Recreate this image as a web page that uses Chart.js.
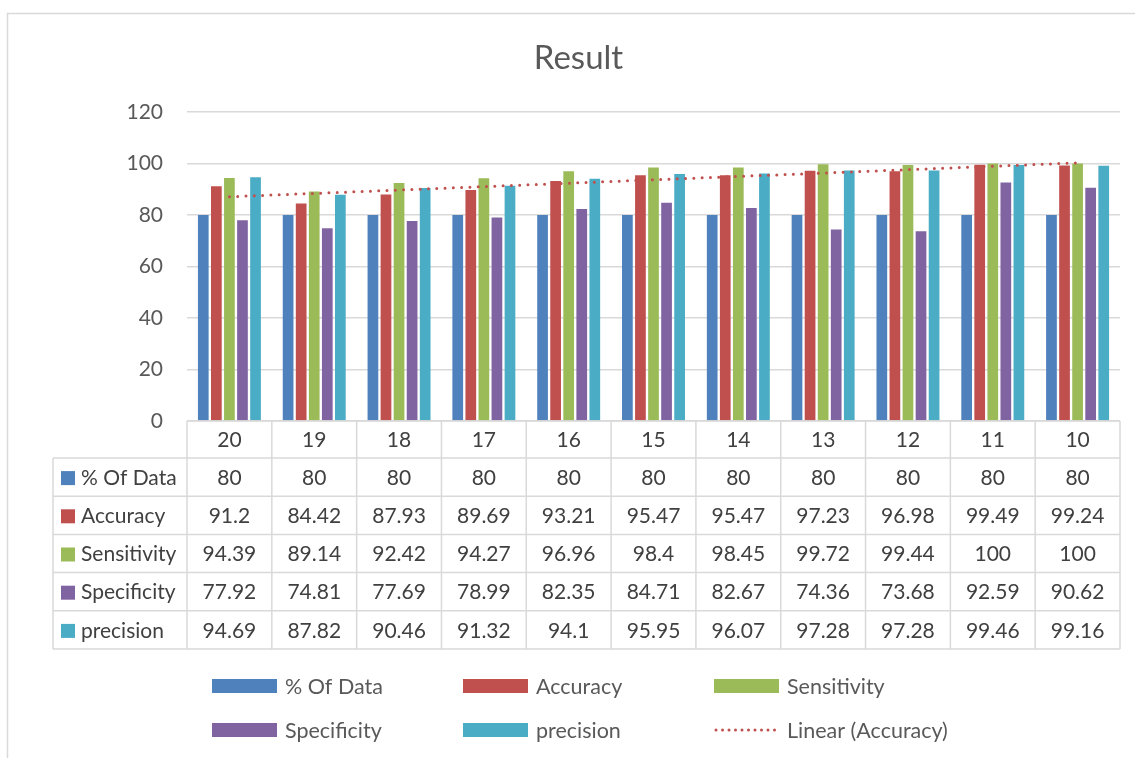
<!DOCTYPE html>
<html>
<head>
<meta charset="utf-8">
<script src="https://cdn.jsdelivr.net/npm/chart.js@4/dist/chart.umd.min.js"></script>
<style>
  html, body { margin: 0; padding: 0; background: #ffffff; }
  #wrap { width: 1135px; height: 758px; }
</style>
</head>
<body>
<div id="wrap"><canvas id="c" width="1135" height="758"></canvas></div>
<script>
// Categories along the x axis
const categories = ['20', '19', '18', '17', '16', '15', '14', '13', '12', '11', '10'];

// Series values
const pctOfData   = [80, 80, 80, 80, 80, 80, 80, 80, 80, 80, 80];
const accuracy    = [91.2, 84.42, 87.93, 89.69, 93.21, 95.47, 95.47, 97.23, 96.98, 99.49, 99.24];
const sensitivity = [94.39, 89.14, 92.42, 94.27, 96.96, 98.4, 98.45, 99.72, 99.44, 100, 100];
const specificity = [77.92, 74.81, 77.69, 78.99, 82.35, 84.71, 82.67, 74.36, 73.68, 92.59, 90.62];
const precision   = [94.69, 87.82, 90.46, 91.32, 94.1, 95.95, 96.07, 97.28, 97.28, 99.46, 99.16];

// Value axis ticks
const yTicks = [0, 20, 40, 60, 80, 100, 120];

// Least-squares linear trend of the Accuracy series (Excel "Linear" trendline)
function linearTrend(values) {
  const n = values.length;
  let sx = 0, sy = 0, sxx = 0, sxy = 0;
  values.forEach((v, i) => { const x = i + 1; sx += x; sy += v; sxx += x * x; sxy += x * v; });
  const slope = (n * sxy - sx * sy) / (n * sxx - sx * sx);
  const icpt = (sy - slope * sx) / n;
  return values.map((_, i) => icpt + slope * (i + 1));
}

const FONT = 'Lato, "Open Sans", "DejaVu Sans", sans-serif';
const FONT_SIZE = 21;
const TEXT = '#595959';
const TABLE_TEXT = '#404040';
const LINE = '#d9d9d9';
const PAD_LEFT = 37;

const series = [
  { label: '% Of Data',   data: pctOfData,   color: '#4f81bd' },
  { label: 'Accuracy',    data: accuracy,    color: '#c0504d' },
  { label: 'Sensitivity', data: sensitivity, color: '#9bbb59' },
  { label: 'Specificity', data: specificity, color: '#8064a2' },
  { label: 'precision',   data: precision,   color: '#4bacc6' }
];

const datasets = series.map(s => ({
  type: 'bar',
  label: s.label,
  data: s.data,
  backgroundColor: s.color,
  borderWidth: 0,
  categoryPercentage: 0.77,
  barPercentage: 0.82,
  order: 1
}));

datasets.push({
  type: 'line',
  label: 'Linear (Accuracy)',
  data: linearTrend(accuracy),
  borderColor: '#c0504d',
  backgroundColor: '#c0504d',
  borderWidth: 3,
  borderDash: [0, 8.3],
  borderCapStyle: 'round',
  pointRadius: 0,
  fill: false,
  order: 0
});

// Outer frame of the chart object
const framePlugin = {
  id: 'frame',
  beforeDraw(chart) {
    const ctx = chart.ctx;
    ctx.save();
    ctx.fillStyle = '#ffffff';
    ctx.fillRect(0, 0, chart.width, chart.height);
    ctx.strokeStyle = LINE;
    ctx.lineWidth = 1.5;
    ctx.strokeRect(7.5, 13.5, chart.width + 20, chart.height + 20);
    ctx.restore();
  }
};

// Data table below the plot, aligned with the category columns
const tablePlugin = {
  id: 'dataTable',
  afterDraw(chart) {
    const ctx = chart.ctx;
    const xs = chart.scales.x;
    const area = chart.chartArea;
    const n = categories.length;
    const colW = (area.right - area.left) / n;
    const top = area.bottom;
    const headH = 37;
    const rowH = 38.2;
    const labelLeft = 53;
    const rows = chart.data.datasets.filter(d => d.type === 'bar');
    const bottom = top + headH + rowH * rows.length;

    ctx.save();
    ctx.strokeStyle = LINE;
    ctx.lineWidth = 1.5;
    ctx.beginPath();
    // horizontal rules
    ctx.moveTo(area.left, top); ctx.lineTo(area.right, top);
    for (let r = 0; r <= rows.length; r++) {
      const y = top + headH + rowH * r;
      ctx.moveTo(labelLeft, y); ctx.lineTo(area.right, y);
    }
    // vertical rules
    ctx.moveTo(labelLeft, top + headH); ctx.lineTo(labelLeft, bottom);
    for (let c = 0; c <= n; c++) {
      const x = area.left + colW * c;
      ctx.moveTo(x, top); ctx.lineTo(x, bottom);
    }
    ctx.stroke();

    ctx.font = FONT_SIZE + 'px ' + FONT;
    ctx.textBaseline = 'middle';
    ctx.fillStyle = TABLE_TEXT;
    ctx.textAlign = 'center';
    categories.forEach((cat, i) => {
      ctx.fillText(cat, xs.getPixelForValue(i), top + headH / 2 + 1);
    });
    rows.forEach((ds, r) => {
      const cy = top + headH + rowH * r + rowH / 2 + 1;
      ctx.fillStyle = ds.backgroundColor;
      ctx.fillRect(labelLeft + 8, cy - 7, 14, 14);
      ctx.fillStyle = TABLE_TEXT;
      ctx.textAlign = 'left';
      ctx.fillText(ds.label, labelLeft + 28, cy);
      ctx.textAlign = 'center';
      ds.data.forEach((v, i) => {
        ctx.fillText(String(v), xs.getPixelForValue(i), cy);
      });
    });
    ctx.restore();
  }
};

// Legend laid out in three columns under the table
const legendPlugin = {
  id: 'gridLegend',
  afterDraw(chart) {
    const ctx = chart.ctx;
    const colX = [212, 463, 714];
    const rowY = [686, 730];
    ctx.save();
    ctx.font = (FONT_SIZE + 0.5) + 'px ' + FONT;
    ctx.textBaseline = 'middle';
    ctx.textAlign = 'left';
    chart.data.datasets.forEach((ds, i) => {
      const x = colX[i % 3];
      const y = rowY[Math.floor(i / 3)];
      if (ds.type === 'line') {
        ctx.strokeStyle = ds.borderColor;
        ctx.lineWidth = 3;
        ctx.lineCap = 'round';
        ctx.setLineDash([0, 6.5]);
        ctx.beginPath();
        ctx.moveTo(x + 2, y);
        ctx.lineTo(x + 66, y);
        ctx.stroke();
        ctx.setLineDash([]);
      } else {
        ctx.fillStyle = ds.backgroundColor;
        ctx.fillRect(x, y - 7, 65, 14);
      }
      ctx.fillStyle = TEXT;
      ctx.fillText(ds.label, x + 73, y + 1);
    });
    ctx.restore();
  }
};

new Chart(document.getElementById('c'), {
  type: 'bar',
  data: { labels: categories, datasets },
  options: {
    responsive: false,
    animation: false,
    devicePixelRatio: 1,
    layout: { padding: { left: PAD_LEFT, right: 15, top: 0, bottom: 337 } },
    plugins: {
      legend: { display: false },
      tooltip: { enabled: false },
      title: {
        display: true,
        text: 'Result',
        color: TEXT,
        font: { family: FONT, size: 33, weight: 'normal', lineHeight: 1.2 },
        padding: { top: 39, bottom: 33.4 }
      }
    },
    scales: {
      x: { display: false, offset: true },
      y: {
        min: yTicks[0],
        max: yTicks[yTicks.length - 1],
        afterBuildTicks(scale) { scale.ticks = yTicks.map(v => ({ value: v })); },
        afterFit(scale) { scale.width = 187 - PAD_LEFT; },
        border: { display: false },
        grid: { color: LINE, lineWidth: 1.5, drawTicks: false },
        ticks: { color: TEXT, padding: 24, font: { family: FONT, size: FONT_SIZE } }
      }
    }
  },
  plugins: [framePlugin, tablePlugin, legendPlugin]
});
</script>
</body>
</html>
